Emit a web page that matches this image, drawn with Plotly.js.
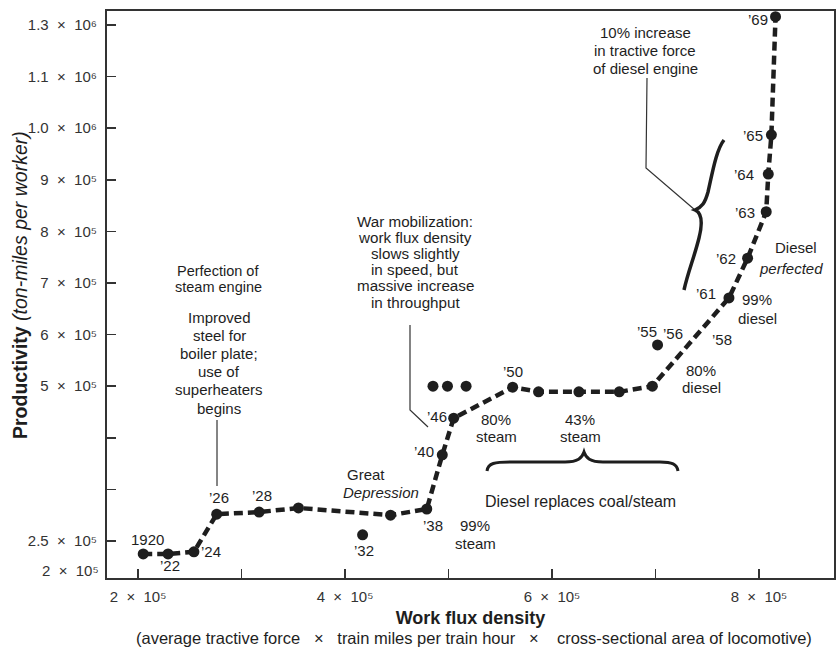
<!DOCTYPE html>
<html>
<head>
<meta charset="utf-8">
<script src="https://cdn.plot.ly/plotly-3.0.1.min.js"></script>
<style>body{margin:0;background:#fff}#chart{width:840px;height:650px}</style>
</head>
<body>
<div id="chart"></div>
<script>
// ---- data ----
const mainYears = ["1920","’22","’24","’26","’28","","","’38","’40","’46","’50","","","","","’61","’62","’63","’64","’65","’69"];
const mainX = [205000, 229000, 254000, 276000, 317000, 355000, 444000, 479000, 494000, 505000, 562000, 587000, 626000, 665000, 697000, 771000, 789000, 807000, 809000, 812000, 816000];
const mainY = [175000, 175000, 179000, 252000, 256000, 264000, 250000, 262000, 367000, 438000, 498000, 489000, 489000, 489000, 500000, 671000, 748000, 838000, 911000, 987000, 1216000];

const otherYears = ["’32","","","","’55"];
const otherX = [417000, 485000, 499000, 517000, 702000];
const otherY = [212000, 500000, 500000, 500000, 580000];

const xTickVals = [200000, 400000, 600000, 800000];
const xTickText = ["2  ×  10⁵", "4  ×  10⁵", "6  ×  10⁵", "8  ×  10⁵"];
const xMinorTickVals = [300000, 500000, 700000];
const yTickVals = [200000, 500000, 600000, 700000, 800000, 900000, 1000000, 1100000, 1200000];
const yTickText = ["2.5  ×  10⁵", "5  ×  10⁵", "6  ×  10⁵", "7  ×  10⁵", "8  ×  10⁵", "9  ×  10⁵", "1.0  ×  10⁶", "1.1  ×  10⁶", "1.3  ×  10⁶"];
const yMinorTickVals = [300000, 400000];
const yBottomLabel = "2  ×  10⁵";
const yBottomLabelValue = 142000;

// ---- layout helpers ----
const L = 107, R = 834, T = 11, B = 578, W = 840, H = 650;
const FONT = "Liberation Sans, Arial, Helvetica, sans-serif";
const INK = "#1e1e1e";
const px = v => (v - L) / (R - L);
const py = v => (B - v) / (B - T);
const P = (x, y) => px(x).toFixed(5) + "," + py(y).toFixed(5);

// label offsets (screen px) for year labels
const mainOff = {0:[4,-14],1:[2,12],2:[17,0],3:[2,-17],4:[3,-17],7:[6,16],8:[-18,-3],9:[-17,-2],10:[0,-16],15:[-23,-4],16:[-22,0],17:[-21,1],18:[-24,0],19:[-18,1],20:[-18,3]};
const otherOff = {0:[1,16],4:[-11,-13]};

const annotations = [];
function yearLabels(years, xs, ys, offs) {
  years.forEach((t, i) => {
    if (!t) return;
    const o = offs[i] || [0, 0];
    annotations.push({x: xs[i], y: ys[i], xref: "x", yref: "y", text: t, showarrow: false,
      xshift: o[0], yshift: -o[1], xanchor: "center", yanchor: "middle",
      font: {family: FONT, size: 15, color: INK}});
  });
}
yearLabels(mainYears, mainX, mainY, mainOff);
yearLabels(otherYears, otherX, otherY, otherOff);

function block(lines, cx, cy, lead, size) {
  lines.forEach((t, i) => {
    annotations.push({xref: "paper", yref: "paper", x: px(cx), y: py(cy + i * lead), text: t,
      showarrow: false, xanchor: "center", yanchor: "middle",
      font: {family: FONT, size: size || 15, color: INK}});
  });
}
block(["Perfection of", "steam engine"], 218, 271, 16.5, 14.5);
block(["Improved", "steel for", "boiler plate;", "use of", "superheaters", "begins"], 219, 317, 18.2, 15);
block(["War mobilization:", "work flux density", "slows slightly", "in speed, but", "massive increase", "in throughput"], 415, 221, 16.2, 15.2);
block(["10% increase", "in tractive force", "of diesel engine"], 645, 32, 18, 15);
block(["Great"], 366, 474, 0);
block(["<i>Depression</i>"], 381, 492, 0);
block(["99%", "steam"], 475, 525, 18);
block(["80%", "steam"], 496, 419, 17);
block(["43%", "steam"], 580, 419, 17);
block(["Diesel replaces coal/steam"], 580, 501, 0, 16);
block(["80%", "diesel"], 701, 370, 17);
block(["99%", "diesel"], 757, 299, 19);
block(["Diesel"], 796, 247, 0);
block(["<i>perfected</i>"], 791, 268, 0);
block(["’56"], 673, 333, 0);
block(["’58"], 722, 339, 0);

// bottom y label without tick
annotations.push({xref: "paper", yref: "y", x: 0, y: yBottomLabelValue, xshift: -6, text: yBottomLabel,
  showarrow: false, xanchor: "right", yanchor: "middle", font: {family: FONT, size: 15, color: "#333"}});
// y-axis title
annotations.push({xref: "paper", yref: "paper", x: px(20), y: py(285), textangle: -90,
  text: "<b>Productivity</b> <i>(ton-miles per worker)</i>",
  showarrow: false, xanchor: "center", yanchor: "middle", font: {family: FONT, size: 19.5, color: INK}});
// x-axis subtitle
annotations.push({xref: "paper", yref: "paper", x: px(474), y: py(638), text: "(average tractive force   ×   train miles per train hour   ×    cross-sectional area of locomotive)",
  showarrow: false, xanchor: "center", yanchor: "middle", font: {family: FONT, size: 16.5, color: INK}});

const shapes = [
  {type: "path", xref: "paper", yref: "paper", line: {color: "#333", width: 1.2},
   path: "M" + P(217, 420) + " L" + P(217, 486)},
  {type: "path", xref: "paper", yref: "paper", line: {color: "#333", width: 1.2},
   path: "M" + P(410, 325) + " L" + P(410, 410) + " L" + P(428, 427)},
  {type: "path", xref: "paper", yref: "paper", line: {color: "#333", width: 1.2},
   path: "M" + P(647, 78) + " L" + P(646, 168) + " L" + P(695, 210)},
  {type: "path", xref: "paper", yref: "paper", line: {color: INK, width: 3.5},
   path: "M" + P(724, 140) + " C" + P(716, 150) + " " + P(712, 175) + " " + P(708, 192) +
         " C" + P(705, 203) + " " + P(702, 207) + " " + P(695, 210) +
         " C" + P(702, 213) + " " + P(703, 222) + " " + P(699, 238) +
         " C" + P(694, 258) + " " + P(688, 272) + " " + P(684, 290)},
  {type: "path", xref: "paper", yref: "paper", line: {color: INK, width: 3},
   path: "M" + P(487, 471) + " C" + P(488, 463) + " " + P(495, 462) + " " + P(510, 462) +
         " L" + P(565, 462) + " C" + P(578, 462) + " " + P(582, 458) + " " + P(584, 452) +
         " C" + P(586, 458) + " " + P(590, 462) + " " + P(603, 462) +
         " L" + P(660, 462) + " C" + P(672, 462) + " " + P(677, 464) + " " + P(678, 471)}
];

const traces = [
  {x: mainX, y: mainY, type: "scatter", mode: "lines+markers", name: "Productivity",
   line: {color: INK, width: 4.5, dash: "9px,5px"},
   marker: {color: INK, size: 11}, hoverinfo: "x+y"},
  {x: otherX, y: otherY, type: "scatter", mode: "markers", name: "Other years",
   marker: {color: INK, size: 11}, hoverinfo: "x+y"}
];

const axisCommon = {showgrid: false, zeroline: false, showline: true, linecolor: "#333", linewidth: 2,
  mirror: true, ticks: "inside", ticklen: 9, tickwidth: 1.5, tickcolor: "#333",
  tickfont: {family: FONT, size: 15, color: "#333"}, tickmode: "array"};

const layout = {
  width: W, height: H,
  margin: {l: L, r: W - R, t: T, b: H - B},
  paper_bgcolor: "#fff", plot_bgcolor: "#fff",
  showlegend: false,
  xaxis: Object.assign({}, axisCommon, {
    range: [170000, 872500], tickvals: xTickVals, ticktext: xTickText, ticklabelstandoff: 4,
    minor: {tickmode: "array", tickvals: xMinorTickVals, ticks: "inside", ticklen: 9, tickwidth: 1.5, tickcolor: "#333", showgrid: false},
    title: {text: "<b>Work flux density</b>", font: {family: FONT, size: 18, color: INK}, standoff: 7}
  }),
  yaxis: Object.assign({}, axisCommon, {
    range: [128300, 1227000], tickvals: yTickVals, ticktext: yTickText, ticklabelstandoff: 5,
    minor: {tickmode: "array", tickvals: yMinorTickVals, ticks: "inside", ticklen: 9, tickwidth: 1.5, tickcolor: "#333", showgrid: false}
  }),
  annotations: annotations,
  shapes: shapes
};

Plotly.newPlot("chart", traces, layout, {displayModeBar: false, staticPlot: true});
</script>
</body>
</html>
